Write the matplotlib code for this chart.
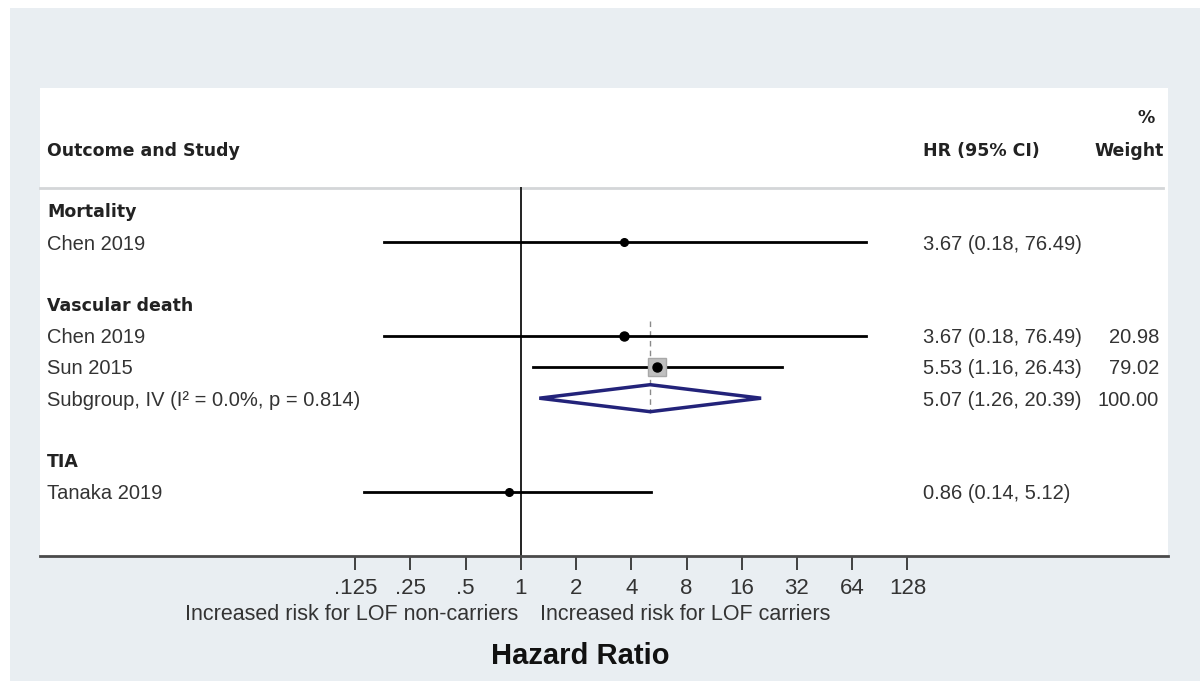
import numpy as np
import matplotlib.pyplot as plt
from matplotlib.patches import Rectangle, Polygon

# forest plot data
groups = ['Mortality', 'Vascular death', 'TIA']
studies = ['Chen 2019', 'Chen 2019', 'Sun 2015', 'Subgroup, IV (I\u00b2 = 0.0%, p = 0.814)', 'Tanaka 2019']
study_group = [0, 1, 1, 1, 2]
hr = [3.67, 3.67, 5.53, 5.07, 0.86]
ci_lo = [0.18, 0.18, 1.16, 1.26, 0.14]
ci_hi = [76.49, 76.49, 26.43, 20.39, 5.12]
weight = [None, 20.98, 79.02, 100.00, None]
is_pooled = [False, False, False, True, False]

ticks = [0.125, 0.25, 0.5, 1, 2, 4, 8, 16, 32, 64, 128]
tick_labels = ['.125', '.25', '.5', '1', '2', '4', '8', '16', '32', '64', '128']

W, H = 1200, 681
BG = '#e9eef2'
body = ['Liberation Sans', 'DejaVu Sans']
head = ['DejaVu Sans']

fig = plt.figure(figsize=(12, 6.81), dpi=100, facecolor=BG)

# full-figure axes in pixel units for panels and text
bg = fig.add_axes([0, 0, 1, 1])
bg.set_xlim(0, W)
bg.set_ylim(H, 0)
bg.axis('off')
bg.add_patch(Rectangle((0, 0), W, 8, color='white', lw=0))
bg.add_patch(Rectangle((0, 0), 10, H, color='white', lw=0))

px_l, px_r, px_t, px_b = 40, 1168, 88, 556
bg.add_patch(Rectangle((px_l, px_t), px_r - px_l, px_b - px_t, color='white', lw=0))

# header
bg.text(47, 151, 'Outcome and Study', family=head, fontweight='bold', fontsize=12.5,
        va='center', color='#222222')
bg.text(923, 151, 'HR (95% CI)', family=head, fontweight='bold', fontsize=12.5,
        va='center', color='#222222')
bg.text(1164, 151, 'Weight', family=head, fontweight='bold', fontsize=12.5,
        va='center', ha='right', color='#222222')
bg.text(1146, 118, '%', family=head, fontweight='bold', fontsize=12.5,
        va='center', ha='center', color='#222222')
bg.plot([px_l, 1163], [188, 188], color='#d4d6d8', lw=2)

# row layout: group header, its studies, blank line
row0, step = 212, 31.2
row_y = []
group_y = []
r = 0
for g in range(len(groups)):
    group_y.append(row0 + r * step)
    r += 1
    for i in range(len(studies)):
        if study_group[i] == g:
            row_y.append(row0 + r * step)
            r += 1
    r += 1

for g, name in enumerate(groups):
    bg.text(47, group_y[g], name, family=head, fontweight='bold', fontsize=12.5,
            va='center', color='#222222')

for i, name in enumerate(studies):
    y = row_y[i] + 1
    bg.text(47, y, name, family=body, fontsize=14.5, va='center', color='#333333')
    bg.text(923, y, '%.2f (%.2f, %.2f)' % (hr[i], ci_lo[i], ci_hi[i]),
            family=body, fontsize=14.5, va='center', color='#333333')
    if weight[i] is not None:
        bg.text(1159, y, '%.2f' % weight[i], family=body, fontsize=14.5,
                va='center', ha='right', color='#333333')

# plot axes, y in the same pixel units
ax = fig.add_axes([px_l / W, (H - px_b) / H, (px_r - px_l) / W, (px_b - px_t) / H])
ax.patch.set_alpha(0)
ax.set_xscale('log', base=2)
ax.set_xlim(2 ** -8.71, 2 ** 11.72)
ax.set_ylim(px_b, px_t)
for s in ['top', 'right', 'left']:
    ax.spines[s].set_visible(False)
ax.spines['bottom'].set_color('#4a4a4a')
ax.spines['bottom'].set_linewidth(2)
ax.set_yticks([])
ax.set_xticks(ticks)
ax.set_xticklabels(tick_labels)
ax.minorticks_off()
ax.tick_params(axis='x', direction='out', length=10, width=1.3, color='#333333',
               pad=6, labelsize=16, labelcolor='#333333')
for lab in ax.get_xticklabels():
    lab.set_family(body)

# null line
ax.plot([1, 1], [188, px_b], color='#222222', lw=1.4)

pooled = is_pooled.index(True)
for i in range(len(studies)):
    y = row_y[i] - 1
    if is_pooled[i]:
        h = 13.5
        ax.add_patch(Polygon([(ci_lo[i], y), (hr[i], y - h), (ci_hi[i], y), (hr[i], y + h)],
                             closed=True, fill=False, edgecolor='#23237a', lw=2.5, zorder=3))
        continue
    ax.plot([ci_lo[i], ci_hi[i]], [y, y], color='black', lw=2, zorder=2)
    if weight[i] is not None and weight[i] > 50:
        size = 4 + 10 * np.sqrt(weight[i] / 100.0)
        ax.plot(hr[i], y, marker='s', ms=size, color='#c0c0c0', mec='#a8a8a8', zorder=3)
    ax.plot(hr[i], y, marker='o', ms=5.5 if weight[i] is None else 6.5, color='black', zorder=4)

# pooled estimate line
ax.plot([hr[pooled], hr[pooled]], [row_y[pooled - 2] - 16, row_y[pooled] + 14],
        color='#8a8a8a', lw=1, ls=(0, (4, 3)), zorder=1)

# direction labels and axis title
bg.text(518, 615, 'Increased risk for LOF non-carriers', family=body, fontsize=15.5,
        ha='right', va='center', color='#333333')
bg.text(540, 615, 'Increased risk for LOF carriers', family=body, fontsize=15.5,
        ha='left', va='center', color='#333333')
bg.text(580, 656, 'Hazard Ratio', family=body, fontweight='bold', fontsize=21,
        ha='center', va='center', color='#111111')

fig.savefig('out.png', dpi=100, facecolor=BG)
